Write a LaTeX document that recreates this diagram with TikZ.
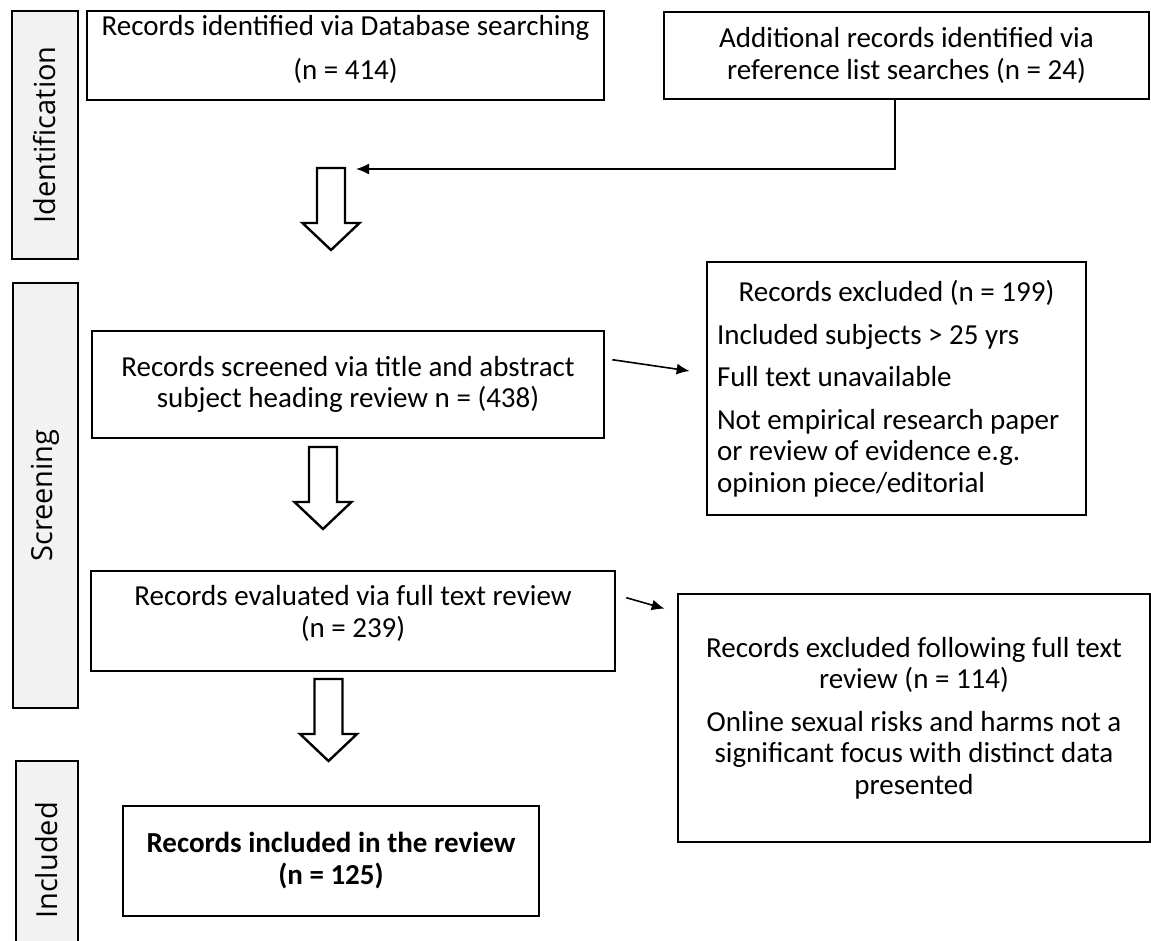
\documentclass[tikz,border=0pt]{standalone}
\usepackage{fontspec}
\setmainfont{Carlito}
\newfontfamily\stagefont{Open Sans}
\usetikzlibrary{arrows.meta,calc}
\tikzset{recbox/.style={draw,line width=2.6pt,align=center,inner sep=0pt,font=\fontsize{29}{31.5}\selectfont},
         stage/.style={draw,line width=2.6pt,fill=black!5,rotate=90,inner sep=0pt,font=\stagefont\fontsize{29}{30}\selectfont},
         line/.style={-{Latex[length=13pt,width=11pt]},line width=1.6pt},
         blockarrow/.pic={\draw[line width=2.4pt,fill=white] (-14,0) -- (14,0) -- (14,-55) -- (28.5,-55) -- (0,-82) -- (-28.5,-55) -- (-14,-55) -- cycle;}
}

\begin{document}
\begin{tikzpicture}[x=1pt,y=1pt,yscale=-1,xscale=1]
\useasboundingbox (0,0) rectangle (1151,941);

%Stage labels
\node[stage,minimum width=248,minimum height=66] (ident) at (45,135) {Identification};
\node[stage,minimum width=425,minimum height=65] (screen) at (45.5,495.5) {Screening};
\node[stage,minimum width=199,minimum height=62] (incl) at (47,860.5) {Included};

%Records boxes
\node[recbox,minimum width=517,minimum height=89,text depth=16pt] (dbrec) at (345.5,55.5) {Records identified via Database searching\\[12.5pt](n = 414)};
\node[recbox,minimum width=485,minimum height=87] (refrec) at (906.5,55.5) {Additional records identified via\\reference list searches (n = 24)};
\node[recbox,minimum width=512,minimum height=107] (screenrec) at (348,384.5) {Records screened via title and abstract\\subject heading review n = (438)};
\node[recbox,minimum width=524,minimum height=100,text depth=19pt] (evalrec) at (353,621) {Records evaluated via full text review\\(n = 239)};
\node[recbox,minimum width=416,minimum height=110,font=\fontsize{29}{32}\bfseries] (inclrec) at (331,861) {Records included in the review\\(n = 125)};

%Exclusion boxes
\node[recbox,align=flush left,text width=359pt,minimum width=379,minimum height=253] (excl1) at (896.5,388.5) {\makebox[359pt]{Records excluded (n = 199)}\\[11pt]Included subjects > 25 yrs\\[11pt]Full text unavailable\\[11pt]Not empirical research paper\\or review of evidence e.g.\\opinion piece/editorial};
\node[recbox,minimum width=472,minimum height=248] (excl2) at (914,718) {Records excluded following full text\\review (n = 114)\\[11pt]Online sexual risks and harms not a\\significant focus with distinct data\\presented};

%Block arrows
\pic at (331,168) {blockarrow};
\pic at (323,447) {blockarrow};
\pic at (328.5,679) {blockarrow};

%Connectors
\coordinate (elbow) at (895,169);
\coordinate (merge) at (356,169);
\draw[line] (refrec.south -| elbow) -- (elbow) -- (merge);
\draw[line] ($(screenrec.north east)+(7,30)$) -- ($(excl1.west)+(-16,-17.5)$);
\draw[line] ($(evalrec.north east)+(10,28)$) -- ($(excl2.north west)+(-12,16)$);

\end{tikzpicture}
\end{document}
